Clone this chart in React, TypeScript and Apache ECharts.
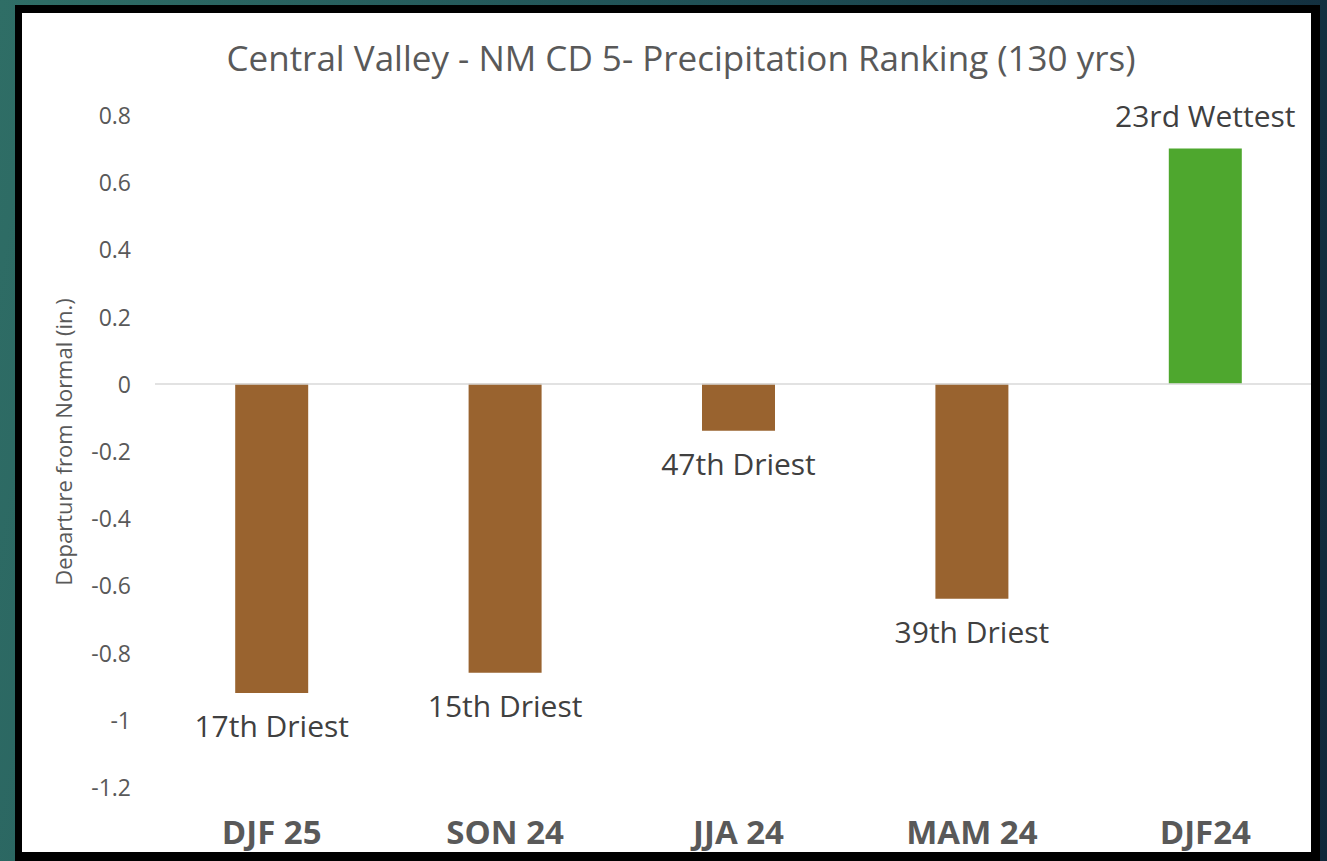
import React, { useEffect, useRef } from "react";
import * as echarts from "echarts";

const categories = ["DJF 25", "SON 24", "JJA 24", "MAM 24", "DJF24"];
const departures = [-0.92, -0.86, -0.14, -0.64, 0.7];
const rankLabels = ["17th Driest", "15th Driest", "47th Driest", "39th Driest", "23rd Wettest"];
const titleText = "Central Valley - NM CD 5- Precipitation Ranking (130 yrs)";
const yAxisName = "Departure from Normal (in.)";

const BROWN = "#99632F";
const GREEN = "#4EA72E";
const FONT = "'Open Sans', 'Noto Sans', sans-serif";

export default function App() {
  const ref = useRef<HTMLDivElement>(null);
  useEffect(() => {
    if (!ref.current) return;
    const chart = echarts.init(ref.current, null, { renderer: "svg" });
    chart.setOption({
      animation: false,
      backgroundColor: "transparent",
      title: {
        text: titleText,
        left: 676,
        top: 35,
        textAlign: "center",
        textStyle: { fontFamily: FONT, fontSize: 35, fontWeight: "normal", color: "#595959" },
      },
      graphic: [
        {
          type: "text",
          x: 63,
          y: 442,
          rotation: Math.PI / 2,
          style: {
            text: yAxisName,
            fontFamily: FONT,
            fontSize: 22,
            fill: "#595959",
            align: "center",
            verticalAlign: "middle",
          },
        },
      ],
      grid: { left: 155, right: 5, top: 115, bottom: 74, containLabel: false },
      xAxis: {
        type: "category",
        data: categories,
        axisLine: { show: false, onZero: false },
        axisTick: { show: false },
        axisLabel: {
          margin: 28,
          fontFamily: FONT,
          fontSize: 33,
          lineHeight: 33,
          fontWeight: "bold",
          color: "#595959",
        },
      },
      yAxis: {
        type: "value",
        min: -1.2,
        max: 0.8,
        interval: 0.2,
        axisLine: { show: false },
        axisTick: { show: false },
        splitLine: { show: false },
        axisLabel: {
          margin: 24,
          fontFamily: FONT,
          fontSize: 23,
          color: "#595959",
          formatter: (v: number) => {
            const r = Math.round(v * 10) / 10;
            return r === 0 ? "0" : String(r);
          },
        },
      },
      series: [
        {
          type: "bar",
          barWidth: 73,
          data: departures.map((v, i) => ({
            value: v,
            itemStyle: { color: v >= 0 ? GREEN : BROWN },
            label: {
              show: true,
              position: v >= 0 ? "top" : "bottom",
              distance: 18,
              formatter: rankLabels[i],
              fontFamily: FONT,
              fontSize: 30,
              color: "#404040",
            },
          })),
          markLine: {
            silent: true,
            symbol: "none",
            label: { show: false },
            lineStyle: { color: "#D9D9D9", width: 1.5, type: "solid" },
            data: [{ yAxis: 0 }],
          },
        },
      ],
    });
    return () => chart.dispose();
  }, []);

  return (
    <div
      style={{
        position: "fixed",
        left: 0,
        top: 0,
        width: 1327,
        height: 861,
        overflow: "hidden",
        background: "linear-gradient(100deg, #2f6e66 0%, #1f4f55 50%, #10283a 100%)",
      }}
    >
      <div
        style={{
          position: "absolute",
          left: 15,
          top: 5,
          width: 1305,
          height: 856,
          background: "#000",
        }}
      />
      <div
        style={{
          position: "absolute",
          left: 22,
          top: 13,
          width: 1289,
          height: 848,
          background: "#fff",
          overflow: "hidden",
        }}
      >
        <div
          ref={ref}
          style={{ position: "absolute", left: -22, top: -13, width: 1327, height: 861 }}
        />
      </div>
      <div
        style={{
          position: "absolute",
          left: 15,
          top: 852,
          width: 1305,
          height: 9,
          background: "#000",
        }}
      />
    </div>
  );
}
